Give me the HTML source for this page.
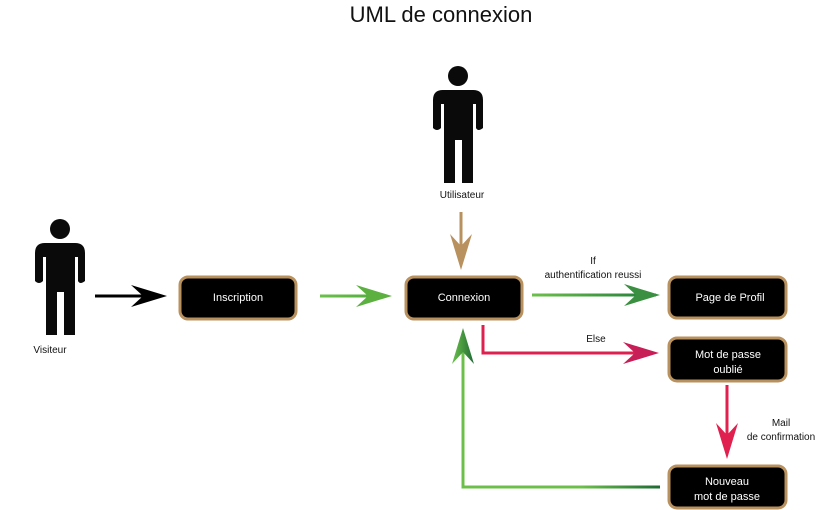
<!DOCTYPE html>
<html><head><meta charset="utf-8"><style>
html,body{margin:0;padding:0;background:#fff;}
svg{display:block;font-family:"Liberation Sans",sans-serif;}
</style></head><body>
<svg width="828" height="510" viewBox="0 0 828 510" xmlns="http://www.w3.org/2000/svg">
<defs>
<linearGradient id="gA" gradientUnits="userSpaceOnUse" x1="320" x2="392" y1="0" y2="0"><stop offset="0" stop-color="#6cc04a"/><stop offset="1" stop-color="#4aa83a"/></linearGradient>
<linearGradient id="gB" gradientUnits="userSpaceOnUse" x1="532" x2="660" y1="0" y2="0"><stop offset="0" stop-color="#6cc04a"/><stop offset="1" stop-color="#1e7a3a"/></linearGradient>
<linearGradient id="gC" gradientUnits="userSpaceOnUse" x1="660" x2="463" y1="0" y2="0"><stop offset="0" stop-color="#1e6b35"/><stop offset="0.4" stop-color="#6cc04a"/><stop offset="1" stop-color="#6cc04a"/></linearGradient>
<linearGradient id="gV" gradientUnits="userSpaceOnUse" x1="452" x2="474" y1="0" y2="0"><stop offset="0" stop-color="#6cc04a"/><stop offset="1" stop-color="#1e6b35"/></linearGradient>
</defs>
<text x="441" y="22" font-size="22" text-anchor="middle" fill="#111">UML de connexion</text>

<g fill="#0a0a0a">
<circle cx="458" cy="76" r="10"/>
<path d="M433 100 Q433 90 443 90 L473 90 Q483 90 483 100 L483 128 Q478 132 476 128 L476 104 L473 104 L473 183 L462 183 L462 140 L455 140 L455 183 L444 183 L444 104 L441 104 L441 128 Q437 132 433 128 Z"/>
<circle cx="60" cy="229" r="10"/>
<path d="M35 253 Q35 243 45 243 L75 243 Q85 243 85 253 L85 281 Q80 285 78 281 L78 257 L75 257 L75 335 L64 335 L64 292 L57 292 L57 335 L46 335 L46 257 L43 257 L43 281 Q39 285 35 281 Z"/>
</g>
<text x="462" y="198" font-size="10" text-anchor="middle" fill="#111">Utilisateur</text>
<text x="50" y="353" font-size="10" text-anchor="middle" fill="#111">Visiteur</text>

<g fill="#000" stroke="#b8915e" stroke-width="3">
<rect x="180" y="277" width="116" height="42" rx="8"/>
<rect x="406" y="277" width="116" height="42" rx="8"/>
<rect x="669" y="277" width="117" height="41" rx="8"/>
<rect x="669" y="338" width="117" height="43" rx="8"/>
<rect x="669" y="466" width="117" height="42" rx="8"/>
</g>
<g fill="#fff" font-size="11" text-anchor="middle">
<text x="238" y="301">Inscription</text>
<text x="464" y="301">Connexion</text>
<text x="730" y="301">Page de Profil</text>
<text x="728" y="358">Mot de passe</text>
<text x="728" y="373">oublié</text>
<text x="727" y="485">Nouveau</text>
<text x="727" y="500">mot de passe</text>
</g>

<line x1="95" y1="296" x2="160" y2="296" stroke="#000" stroke-width="3"/>
<path d="M167 296 L131 285 L143 296 L131 307 Z" fill="#000"/>
<rect x="320" y="294.5" width="66" height="3" fill="url(#gA)"/>
<path d="M392 296 L356 285 L368 296 L356 307 Z" fill="#5cb040"/>
<line x1="461" y1="212" x2="461" y2="262" stroke="#b8915e" stroke-width="3"/>
<path d="M461 270 L450 234 L461 246 L472 234 Z" fill="#b8915e"/>
<rect x="532" y="293.5" width="124" height="3" fill="url(#gB)"/>
<path d="M660 295 L624 284 L636 295 L624 306 Z" fill="#3a9040"/>
<polyline points="483,325 483,353 652,353" fill="none" stroke="#dc2050" stroke-width="3"/>
<path d="M659 353 L623 342 L635 353 L623 364 Z" fill="#c81e58"/>
<line x1="727" y1="385" x2="727" y2="452" stroke="#e0204e" stroke-width="3"/>
<path d="M727 459 L716 423 L727 435 L738 423 Z" fill="#e0204e"/>
<rect x="461.5" y="485.5" width="198.5" height="3" fill="url(#gC)"/>
<rect x="461.5" y="340" width="3" height="148" fill="#6cc04a"/>
<path d="M463 328 L452 364 L463 352 L474 364 Z" fill="url(#gV)"/>

<g font-size="10" fill="#111" text-anchor="middle">
<text x="593" y="264">If</text>
<text x="593" y="278">authentification reussi</text>
<text x="596" y="342">Else</text>
<text x="781" y="426">Mail</text>
<text x="781" y="440">de confirmation</text>
</g>
</svg>
</body></html>
